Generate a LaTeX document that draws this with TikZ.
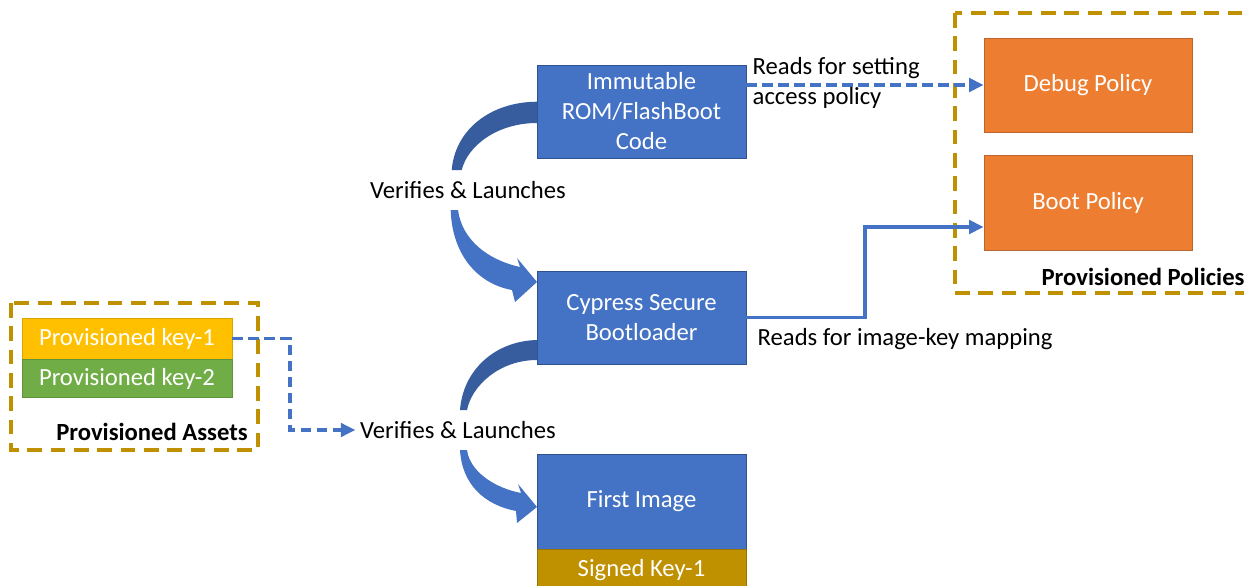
\documentclass[tikz,border=0pt]{standalone}
\usepackage{fontspec}
\setmainfont{Carlito}
\usetikzlibrary{arrows.meta,calc}

\definecolor{boxblue}{HTML}{4472C4}
\definecolor{boxedge}{HTML}{2F528F}
\definecolor{arcdark}{HTML}{385D9F}
\definecolor{policyorange}{HTML}{ED7D31}
\definecolor{policyedge}{HTML}{B9652C}
\definecolor{keyyellow}{HTML}{FFC000}
\definecolor{keygreen}{HTML}{70AD47}
\definecolor{keygold}{HTML}{BF9000}

\begin{document}
\begin{tikzpicture}[x=0.75pt,y=-0.75pt,
    every node/.style={font=\fontsize{18.5}{22.5}\selectfont},
    bluebox/.style={draw=boxedge,fill=boxblue,text=white,align=center,
        inner sep=0pt,minimum width=156.75pt,minimum height=69.75pt},
    policybox/.style={draw=policyedge,fill=policyorange,text=white,
        inner sep=0pt,minimum width=156pt,minimum height=70.5pt},
    keybox/.style={text=white,inner sep=0pt,minimum width=157.5pt},
    groupframe/.style={draw=keygold,line width=2.6pt,dash pattern=on 11pt off 6.5pt},
    readline/.style={draw=boxblue,line width=2.8pt,-{Triangle[length=11pt,width=10pt]}},
    readdash/.style={readline,dash pattern=on 8pt off 4pt}]
\clip (0,0) rectangle (1244,585);
\useasboundingbox (0,0) rectangle (1244,585);

% boot chain
\node[bluebox] (rom) at (641.5,111.5) {Immutable\\ROM/FlashBoot\\Code};
\node[bluebox] (csb) at (641.5,317.5) {Cypress Secure\\Bootloader};
\node[bluebox,minimum height=71.25pt] (img) at (641.5,501.5) {First Image};
\node[keybox,draw=keygold!80!black,fill=keygold,minimum width=156.75pt,
    minimum height=31.5pt,anchor=north] (skey) at (img.south) {Signed Key-1};

\node (verify1) at (468,190) {Verifies \& Launches};
\node (verify2) at (458,430) {Verifies \& Launches};

% curved arrows
\fill[arcdark] (537,101.7) .. controls (490,102) and (455,130) .. (451.7,170)
    -- (461.7,170) .. controls (468,145) and (498,123) .. (537,123) -- cycle;
\fill[boxblue] (450.7,210) .. controls (452,255) and (478,284) .. (512,290)
    -- (515,302) -- (537,282) -- (517,258) -- (520,267)
    .. controls (488,260) and (462,240) .. (458,210) -- cycle;
\fill[arcdark] (537,340) .. controls (495,341) and (463,370) .. (460,410)
    -- (467,410) .. controls (472,385) and (500,360) .. (537,360) -- cycle;
\fill[boxblue] (460,450) .. controls (462,485) and (485,505) .. (516,511)
    -- (517,523) -- (537,507) -- (518,484) -- (521,493)
    .. controls (495,488) and (470,472) .. (467,450) -- cycle;

% policies
\draw[groupframe] (955,13) rectangle (1262,293);
\node[policybox] (debug) at (1088,85) {Debug Policy};
\node[policybox,minimum height=71.25pt] (boot) at (1088,202.5) {Boot Policy};
\node[font=\fontsize{18.5}{22.5}\selectfont\bfseries] (polname) at (1143,277) {Provisioned Policies};

% assets
\draw[groupframe] (11,303) rectangle (258,450);
\node[keybox,draw=keyyellow!85!black,fill=keyyellow,minimum height=30.75pt] (key1) at (127,338.5) {Provisioned key-1};
\node[keybox,draw=keygreen!85!black,fill=keygreen,minimum height=28.5pt,anchor=north] (key2) at (key1.south) {Provisioned key-2};
\node[font=\fontsize{18.5}{22.5}\selectfont\bfseries] (assetname) at (152,432) {Provisioned Assets};

% reads
\draw[readdash] (debug.west -| rom.east) -- (debug.west);
\node[align=left,anchor=west] (readsacc) at (748,83) {Reads for setting\\access policy};
\draw[readline] (csb.east) -- ++(119,0) |- ($(boot.west)+(0,24.5)$);
\node[anchor=west] (readsmap) at (753,339) {Reads for image-key mapping};
\draw[readdash] (key1.east) -- ++(58,0) |- (verify2.west);
\end{tikzpicture}
\end{document}
